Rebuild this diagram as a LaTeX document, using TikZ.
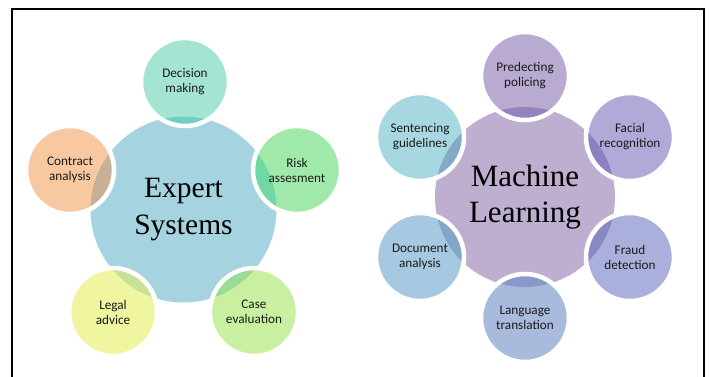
\documentclass[tikz,border=0pt]{standalone}
\usepackage{fontspec}
\newfontfamily\satfamily{Carlito}
\newfontfamily\hubfamily{Liberation Serif}

% hub colours
\definecolor{esHub}{HTML}{A6D3E0}
\definecolor{mlHub}{HTML}{BEAFD0}
% satellite colours: light fill and the darker tone where it meets the hub
\definecolor{dmL}{HTML}{A3E5D2}\definecolor{dmD}{HTML}{72D0C0}
\definecolor{raL}{HTML}{A0E9AA}\definecolor{raD}{HTML}{70D8A2}
\definecolor{ceL}{HTML}{C8F0A0}\definecolor{ceD}{HTML}{98DC96}
\definecolor{laL}{HTML}{F0F5A0}\definecolor{laD}{HTML}{C8E196}
\definecolor{caL}{HTML}{F8C8A0}\definecolor{caD}{HTML}{C8B096}
\definecolor{ppL}{HTML}{B9AAD2}\definecolor{ppD}{HTML}{9682BE}
\definecolor{frL}{HTML}{AFAAD7}\definecolor{frD}{HTML}{8C80C0}
\definecolor{fdL}{HTML}{AAAFDC}\definecolor{fdD}{HTML}{8A88C2}
\definecolor{ltL}{HTML}{A8BBDD}\definecolor{ltD}{HTML}{8898C8}
\definecolor{daL}{HTML}{A7C8E1}\definecolor{daD}{HTML}{84A4C8}
\definecolor{sgL}{HTML}{A7D7E1}\definecolor{sgD}{HTML}{82AAC8}
\definecolor{labelgray}{HTML}{1A1A1A}

\tikzset{
  hub/.style={circle, inner sep=0pt, align=center, text=black},
  sat/.style={circle, minimum size=88pt, inner sep=0pt, draw=white,
    line width=4.5pt, align=center, text=labelgray,
    font=\satfamily\fontsize{13.2}{15}\selectfont},
  % fill colour, overlap colour, hub name, hub radius
  tone/.style n args={4}{fill=#1,
    path picture={\fill[#2] (#3.center) circle (#4);}},
}

\begin{document}
\begin{tikzpicture}[x=1pt, y=-1pt]
  \useasboundingbox (0,0) rectangle (710,376);
  \fill[white] (0,0) rectangle (710,376);

  % outer frame (open at the bottom edge)
  \draw[line width=1.8pt] (12.3,390) -- (12.3,9.3) -- (704,9.3) -- (704,390);

  % ---------- Expert Systems ----------
  \node[hub, fill=esHub, minimum size=186pt,
        font=\hubfamily\fontsize{29.5}{36.5}\selectfont]
        (ES) at (183.5,209.5) {Expert\\Systems};

  \node[sat, tone={dmL}{dmD}{ES}{93pt}] (dm) at (185,82)  {Decision\\making};
  \node[sat, tone={raL}{raD}{ES}{93pt}] (ra) at (297,170) {Risk\\assesment};
  \node[sat, tone={ceL}{ceD}{ES}{93pt}] (ce) at (254,312) {Case\\evaluation};
  \node[sat, tone={laL}{laD}{ES}{93pt}] (la) at (113,312) {Legal\\advice};
  \node[sat, tone={caL}{caD}{ES}{93pt}] (ca) at (70,170)  {Contract\\analysis};

  % ---------- Machine Learning ----------
  \node[hub, fill=mlHub, minimum size=180pt,
        font=\hubfamily\fontsize{31}{36}\selectfont]
        (ML) at (525,197) {Machine\\Learning};

  \node[sat, tone={ppL}{ppD}{ML}{90pt}] (pp) at (525,76)  {Predecting\\policing};
  \node[sat, tone={frL}{frD}{ML}{90pt}] (fr) at (630,137) {Facial\\recognition};
  \node[sat, tone={fdL}{fdD}{ML}{90pt}] (fd) at (630,257) {Fraud\\detection};
  \node[sat, tone={ltL}{ltD}{ML}{90pt}] (lt) at (525,318) {Language\\translation};
  \node[sat, tone={daL}{daD}{ML}{90pt}] (da) at (420,257) {Document\\analysis};
  \node[sat, tone={sgL}{sgD}{ML}{90pt}] (sg) at (420,137) {Sentencing\\guidelines};
\end{tikzpicture}
\end{document}
